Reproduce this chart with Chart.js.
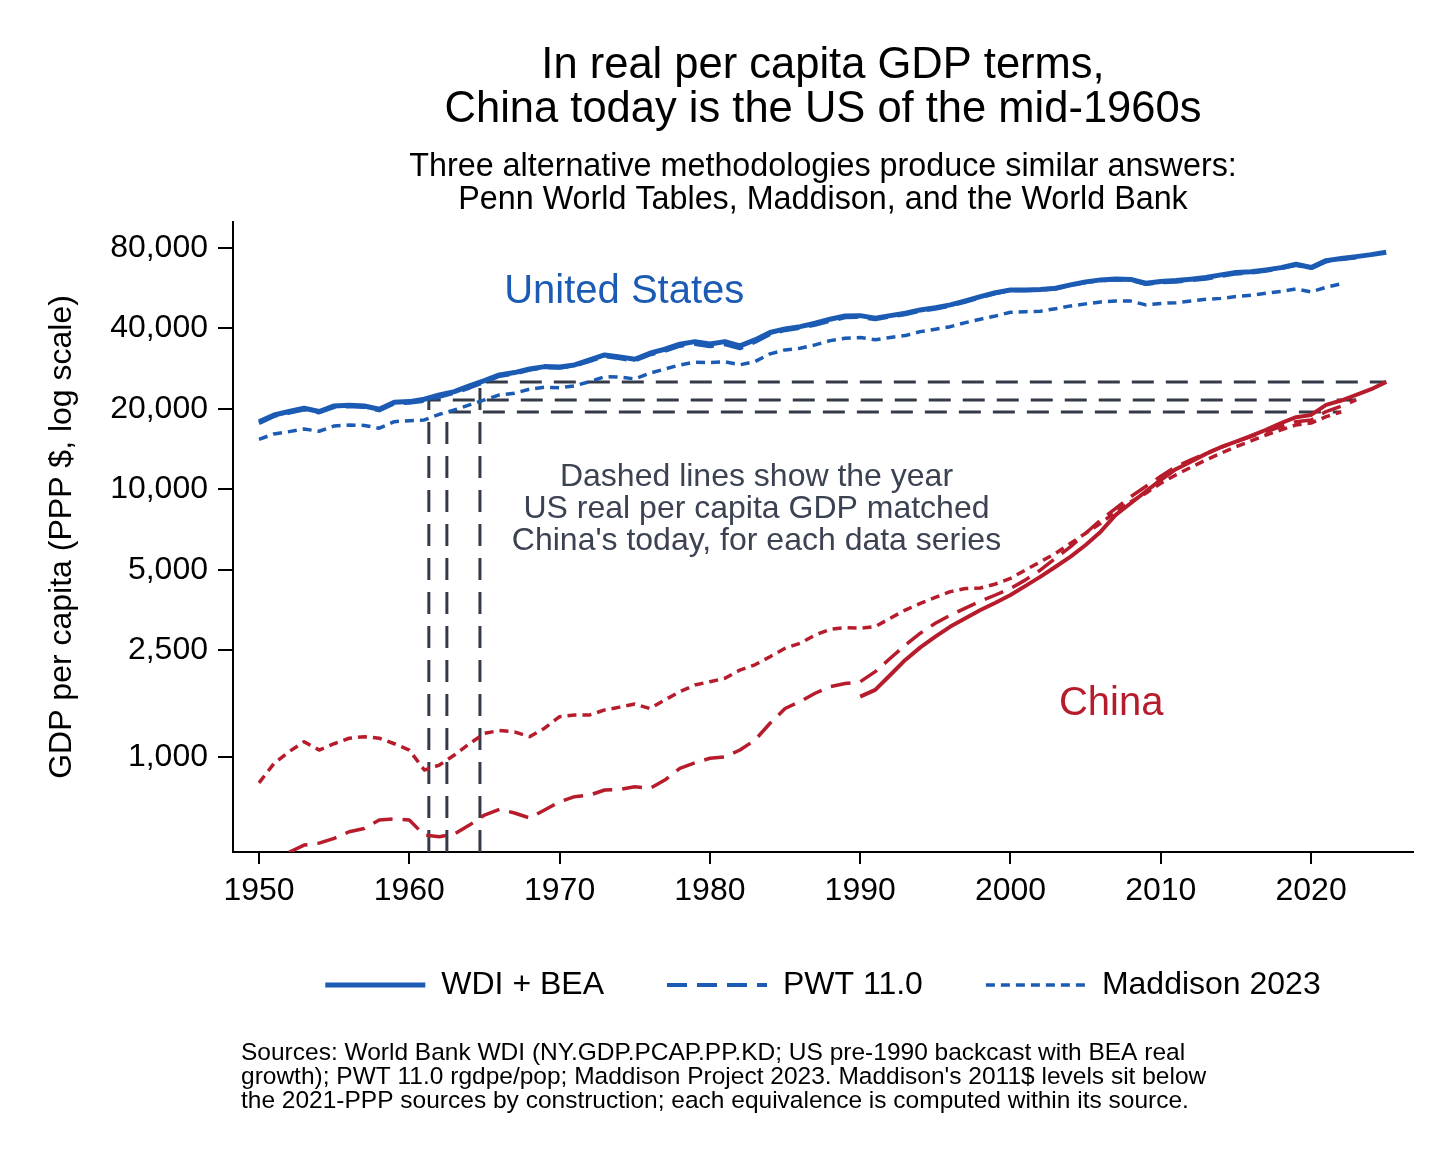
<!DOCTYPE html>
<html>
<head>
<meta charset="utf-8">
<script src="https://cdn.jsdelivr.net/npm/chart.js@4.4.1/dist/chart.umd.min.js"></script>
<style>
  html, body { margin: 0; padding: 0; background: #fff; }
</style>
</head>
<body>
<canvas id="gdpChart" width="1456" height="1164"></canvas>
<script>
// years, one value per year (null = no data)
const years = [
  1950, 1951, 1952, 1953, 1954, 1955, 1956, 1957, 1958, 1959,
  1960, 1961, 1962, 1963, 1964, 1965, 1966, 1967, 1968, 1969,
  1970, 1971, 1972, 1973, 1974, 1975, 1976, 1977, 1978, 1979,
  1980, 1981, 1982, 1983, 1984, 1985, 1986, 1987, 1988, 1989,
  1990, 1991, 1992, 1993, 1994, 1995, 1996, 1997, 1998, 1999,
  2000, 2001, 2002, 2003, 2004, 2005, 2006, 2007, 2008, 2009,
  2010, 2011, 2012, 2013, 2014, 2015, 2016, 2017, 2018, 2019,
  2020, 2021, 2022, 2023, 2024, 2025
];

const usWdi = [
  17920, 18990, 19550, 20110, 19550, 20520, 20640, 20520, 19940, 21190,
  21300, 21740, 22560, 23210, 24400, 25500, 26800, 27350, 28220, 28790,
  28700, 29210, 30500, 31840, 31300, 30680, 32310, 33440, 34910, 35700,
  35000, 35700, 34400, 36230, 38600, 39830, 40620, 41830, 43300, 44540,
  44650, 43690, 44650, 45580, 46900, 47840, 48970, 50670, 52590, 54440,
  55710, 55700, 55900, 56530, 58170, 59700, 60740, 61200, 61000, 59010,
  59900, 60400, 61100, 61960, 63400, 64700, 65100, 66200, 67500, 69500,
  67600, 71700, 72970, 74200, 75500, 77100
];
const usPwt = [
  17700, 18800, 19350, 19900, 19400, 20300, 20450, 20350, 19750, 20950,
  21100, 21420, 22200, 22950, 24000, 25200, 26550, 27100, 28000, 28600,
  28500, 29000, 30200, 31500, 30900, 30300, 31900, 33000, 34400, 35000,
  34300, 34900, 33700, 35600, 38100, 39400, 40200, 41300, 42700, 44000,
  44100, 43300, 44300, 45200, 46500, 47400, 48600, 50300, 52200, 54100,
  55500, 55500, 55700, 56400, 58000, 59500, 60500, 61000, 60700, 58600,
  59400, 59800, 60600, 61300, 62700, 64100, 64600, 65700, 67100, 69000,
  67100, 71200, 72600, 73700, null, null
];
const usMad = [
  15400, 16130, 16450, 16830, 16500, 17270, 17400, 17350, 16940, 17920,
  18080, 18190, 19100, 19820, 20700, 21610, 22560, 22900, 23700, 24100,
  24000, 24400, 25300, 26400, 26300, 25900, 27200, 28200, 29200, 29900,
  29800, 30000, 29250, 30060, 32120, 33240, 33700, 34700, 36000, 36760,
  37000, 36300, 37000, 37600, 38900, 39700, 40600, 42050, 43300, 44500,
  45980, 46200, 46400, 47400, 48550, 49400, 50240, 50670, 50600, 48970,
  49600, 49900, 50600, 51400, 51800, 52600, 53200, 54100, 55000, 56200,
  54800, 57000, 58700, null, null, null
];

const cnWdi = [
  null, null, null, null, null, null, null, null, null, null,
  null, null, null, null, null, null, null, null, null, null,
  null, null, null, null, null, null, null, null, null, null,
  null, null, null, null, null, null, null, null, null, null,
  1680, 1780, 2024, 2304, 2568, 2815, 3070, 3300, 3540, 3770,
  4030, 4360, 4720, 5140, 5610, 6200, 6950, 8030, 8880, 9820,
  10850, 11900, 12700, 13580, 14380, 15090, 15850, 16690, 17690, 18620,
  18990, 20700, 21500, 22560, 23700, 25240
];
const cnPwt = [
  null, null, 440, 468, 476, 496, 525, 540, 581, 586,
  581, 510, 503, 515, 556, 606, 637, 617, 591, 633,
  680, 710, 720, 752, 756, 773, 762, 819, 906, 951,
  988, 1000, 1061, 1156, 1336, 1517, 1610, 1730, 1830, 1880,
  1910, 2083, 2337, 2620, 2900, 3160, 3390, 3600, 3820, 4030,
  4260, 4590, 5000, 5530, 6110, 6860, 7690, 8500, 9400, 10250,
  11200, 12170, 12890, 13650, 14380, 15090, 15760, 16450, 17170, 17920,
  18190, 19550, 20460, 21610, null, null
];
const cnMad = [
  800, 946, 1046, 1140, 1061, 1120, 1174, 1190, 1174, 1120,
  1061, 893, 932, 1016, 1120, 1225, 1255, 1240, 1190, 1280,
  1414, 1435, 1435, 1498, 1535, 1576, 1517, 1632, 1753, 1857,
  1910, 1967, 2112, 2210, 2369, 2547, 2660, 2856, 3000, 3040,
  3030, 3070, 3300, 3540, 3750, 3950, 4150, 4260, 4280, 4430,
  4650, 5000, 5370, 5770, 6290, 6860, 7470, 8260, 9000, 9680,
  10550, 11330, 12100, 12890, 13650, 14450, 15180, 15980, 16690, 17430,
  17700, 18710, 19480, null, null, null
];

// year in which the US matched China's latest level (WDI, PWT, Maddison)
const matchYears = [1964.7, 1961.3, 1962.5];

const seriesNames = ['WDI + BEA', 'PWT 11.0', 'Maddison 2023'];
const yTicks = [1000, 2500, 5000, 10000, 20000, 40000, 80000];
const xTicks = [1950, 1960, 1970, 1980, 1990, 2000, 2010, 2020];

const BLUE = '#1b5bb3';
const RED = '#b71c2c';
const REF = '#343a48';
const NOTE = '#3b4252';
const FONT = '"Liberation Sans", Arial, Helvetica, sans-serif';

const Y_MIN = 441, Y_MAX = 100000;

function toPoints(vals) {
  const pts = [];
  vals.forEach((v, i) => { if (v !== null) pts.push({ x: years[i], y: v }); });
  return pts;
}

function lastPoint(vals) {
  for (let i = vals.length - 1; i >= 0; i--) {
    if (vals[i] !== null) return { x: years[i], y: vals[i] };
  }
}

const styles = [
  { width: 5, dash: [] },
  { width: 4, dash: [20, 10] },
  { width: 3.5, dash: [9, 6] }
];

const usSeries = [usWdi, usPwt, usMad];
const cnSeries = [cnWdi, cnPwt, cnMad];

const datasets = [];
usSeries.forEach((s, i) => {
  datasets.push({
    label: seriesNames[i],
    data: toPoints(s),
    borderColor: BLUE,
    backgroundColor: BLUE,
    borderWidth: styles[i].width,
    borderDash: styles[i].dash
  });
});
cnSeries.forEach((s, i) => {
  datasets.push({
    label: 'China ' + seriesNames[i],
    data: toPoints(s),
    borderColor: RED,
    backgroundColor: RED,
    borderWidth: i === 0 ? 4 : 3.5,
    borderDash: styles[i].dash
  });
});
// reference lines: up from the axis at the match year, across to China's latest point
cnSeries.forEach((s, i) => {
  const end = lastPoint(s);
  datasets.push({
    label: 'ref' + i,
    data: [
      { x: matchYears[i], y: Y_MIN },
      { x: matchYears[i], y: end.y },
      { x: end.x, y: end.y }
    ],
    borderColor: REF,
    borderWidth: 3,
    borderDash: [22, 12]
  });
});

const notesPlugin = {
  id: 'notes',
  afterDatasetsDraw(chart) {
    const { ctx, scales: { x, y } } = chart;
    ctx.save();
    ctx.textAlign = 'center';
    ctx.textBaseline = 'middle';

    ctx.font = '40px ' + FONT;
    ctx.fillStyle = BLUE;
    ctx.fillText('United States', x.getPixelForValue(1974.3), y.getPixelForValue(54800));
    ctx.fillStyle = RED;
    ctx.fillText('China', x.getPixelForValue(2006.7), y.getPixelForValue(1576));

    ctx.font = '32px ' + FONT;
    ctx.fillStyle = NOTE;
    const noteLines = [
      'Dashed lines show the year',
      'US real per capita GDP matched',
      "China's today, for each data series"
    ];
    const nx = x.getPixelForValue(1983.1);
    const ny = y.getPixelForValue(11130);
    noteLines.forEach((t, i) => ctx.fillText(t, nx, ny + i * 32));
    ctx.restore();
  },
  afterDraw(chart) {
    const { ctx } = chart;
    ctx.save();
    ctx.textAlign = 'left';
    ctx.textBaseline = 'middle';
    ctx.font = '24.5px ' + FONT;
    ctx.fillStyle = '#000';
    const src = [
      'Sources: World Bank WDI (NY.GDP.PCAP.PP.KD; US pre-1990 backcast with BEA real',
      "growth); PWT 11.0 rgdpe/pop; Maddison Project 2023. Maddison's 2011$ levels sit below",
      'the 2021-PPP sources by construction; each equivalence is computed within its source.'
    ];
    src.forEach((t, i) => ctx.fillText(t, 241, chart.height - 111 + i * 24));
    ctx.restore();
  }
};

Chart.defaults.font.family = FONT;
Chart.defaults.color = '#000';

new Chart(document.getElementById('gdpChart'), {
  type: 'line',
  data: { datasets: datasets },
  options: {
    responsive: false,
    animation: false,
    elements: {
      point: { radius: 0, hoverRadius: 0 },
      line: { tension: 0, borderCapStyle: 'butt', borderJoinStyle: 'round' }
    },
    layout: { padding: { top: 20, left: 0, right: 43, bottom: 153 } },
    scales: {
      x: {
        type: 'linear',
        min: 1948.27,
        max: 2026.78,
        afterBuildTicks: s => { s.ticks = xTicks.map(v => ({ value: v })); },
        afterFit: s => { s.height = 54; },
        ticks: {
          font: { size: 32 },
          color: '#000',
          padding: 8,
          maxRotation: 0,
          callback: v => String(v)
        },
        grid: {
          drawOnChartArea: false,
          drawTicks: true,
          tickLength: 12,
          color: '#000',
          lineWidth: 2
        },
        border: { display: true, color: '#000', width: 2 }
      },
      y: {
        type: 'logarithmic',
        min: Y_MIN,
        max: Y_MAX,
        afterBuildTicks: s => { s.ticks = yTicks.map(v => ({ value: v })); },
        afterFit: s => { s.width = 233; },
        ticks: {
          font: { size: 32 },
          color: '#000',
          padding: 10,
          callback: v => Number(v).toLocaleString('en-US')
        },
        grid: {
          drawOnChartArea: false,
          drawTicks: true,
          tickLength: 15,
          color: '#000',
          lineWidth: 2
        },
        border: { display: true, color: '#000', width: 2 },
        title: {
          display: true,
          text: 'GDP per capita (PPP $, log scale)',
          font: { size: 32 },
          color: '#000',
          padding: { top: 43, bottom: 0 }
        }
      }
    },
    plugins: {
      title: {
        display: true,
        fullSize: false,
        text: ['In real per capita GDP terms,', 'China today is the US of the mid-1960s'],
        font: { size: 43.5, weight: 'normal', lineHeight: 1.01 },
        color: '#000',
        padding: { top: 24, bottom: 0 }
      },
      subtitle: {
        display: true,
        fullSize: false,
        text: ['Three alternative methodologies produce similar answers:', 'Penn World Tables, Maddison, and the World Bank'],
        font: { size: 32.3, weight: 'normal', lineHeight: 1.0 },
        color: '#000',
        padding: { top: 19.5, bottom: 6 }
      },
      legend: {
        display: true,
        position: 'bottom',
        fullSize: false,
        labels: {
          usePointStyle: true,
          pointStyle: 'line',
          pointStyleWidth: 100,
          padding: 63,
          font: { size: 32 },
          color: '#000',
          generateLabels: chart => chart.data.datasets.slice(0, 3).map((ds, i) => ({
            text: ds.label,
            strokeStyle: ds.borderColor,
            fillStyle: ds.borderColor,
            lineWidth: ds.borderWidth,
            lineDash: ds.borderDash,
            lineCap: 'butt',
            pointStyle: 'line',
            datasetIndex: i,
            hidden: false
          }))
        }
      },
      tooltip: { enabled: false }
    }
  },
  plugins: [notesPlugin]
});
</script>
</body>
</html>
